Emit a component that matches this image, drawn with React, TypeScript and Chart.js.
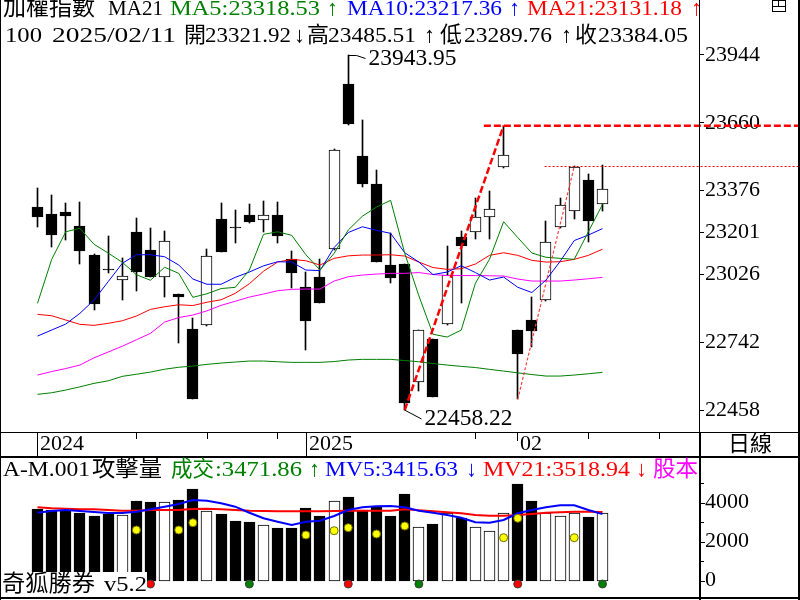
import React, { useEffect, useRef } from "react";
import { Chart, registerables } from "chart.js";
Chart.register(...registerables);

// ---------- data ----------
const dates = [
  "2024-12-05","2024-12-06","2024-12-09","2024-12-10","2024-12-11","2024-12-12","2024-12-13",
  "2024-12-16","2024-12-17","2024-12-18","2024-12-19","2024-12-20","2024-12-23","2024-12-24",
  "2024-12-25","2024-12-26","2024-12-27","2024-12-30","2024-12-31","2025-01-02","2025-01-03",
  "2025-01-06","2025-01-07","2025-01-08","2025-01-09","2025-01-10","2025-01-13","2025-01-14",
  "2025-01-15","2025-01-16","2025-01-17","2025-01-20","2025-01-21","2025-01-22","2025-02-03",
  "2025-02-04","2025-02-05","2025-02-06","2025-02-07","2025-02-10","2025-02-11",
];
const open = [23307.6,23278,23287,23228,23107,23047,23001,23203,23128,23013,22943.5,22797,22812.5,23257,23222.5,23274,23252,23274,23089,22973,23014.6,23130.6,23822,23521,23403.8,23064.8,23069,22574,22755,22816.7,23183,23204,23267,23473.7,22792.8,22834.7,22917,23225,23289.6,23420.6,23321.92];
const high = [23387,23358,23323,23328.5,23110,23186,23093,23261.5,23220,23207,22945,22844,23132,23324,23295,23320,23333,23327,23123,23037,23089,23550,23943.95,23671.7,23462,23197.5,23070,22792,22756,23144,23207,23344,23374.6,23648,22793,22931,23249,23344,23478,23444.5,23485.51];
const low = [23225,23139,23169,23070,22878,23030,22920,22957,23014,22932,22740,22503,22810,23119,23158,23242,23204,23158,22967,22710,22904.5,23128,23652,23391,23077,22988,22458.22,22539,22511,22815,22904.5,23175,23175,23472,22502.8,22720,22915,23218,23256,23162,23289.76];
const close = [23267,23192,23271,23125,22903,23046,23017.5,23037,23016,23164,22932,22504,23101,23120.6,23222,23246,23274,23187.5,23032.6,22832,22907,23546,23653.7,23405,23078.7,23011.7,22486,22791.5,22513.7,23021.7,23145.6,23264.5,23299,23524,22693.6,22790,23160,23314.6,23473.7,23250,23384.05];

const ma5 = [22904.6,23087.9,23204.2,23218.5,23151.9,23115.1,23076.6,23024.3,23001.2,23055.6,23030.1,22929.7,22944.7,22966.5,22971.5,23043.9,23193.3,23204.2,23189.2,23108,23043.9,23113.8,23211.3,23269.1,23307.6,23335.6,23113.8,22936,22775.2,22763.5,22792.8,22988.3,23089.1,23246.1,23180,23115.1,23097.5,23092.9,23088.7,23204.2,23318.53];
const ma10 = [22767.7,22792.8,22817.9,22862.7,22918.4,22995,23072,23108,23108,23099.6,23064.9,23006.3,22984.5,22984.5,23013.4,23035.6,23061.5,23078.7,23077.4,23043.9,23041.8,23138.1,23200.9,23225.1,23210.1,23197.5,23116.3,23077.4,23025.1,23035.6,23061.9,23033.5,23002.1,23014.6,22971.9,22949.8,23002.1,23080.3,23167.4,23190.4,23217.36];
const ma21 = [22858.5,22852.7,22834.7,22816.7,22812.5,22820.9,22831.7,22851.4,22879.4,22890.3,22898.7,22895.4,22909.2,22919.6,22946.4,22986.6,23038.9,23077.4,23088.7,23082.8,23064.9,23092.9,23103.4,23106.7,23106.7,23108,23102.5,23077.4,23054.4,23046.9,23049.4,23069,23105.4,23116.3,23105.4,23084.5,23077.4,23078.7,23088.7,23105.4,23131.18];
const maMid = [22604.5,22619.1,22631.7,22646.3,22676.5,22700.7,22725,22752.2,22779,22826.3,22845.1,22855.6,22873.2,22896.2,22913.4,22930.9,22943.5,22957.3,22963.2,22964.4,22964.4,22997.9,23015.9,23023,23027.2,23030.1,23030.1,23033.5,23025.1,23020.9,23020.9,23020.9,23020.1,23018.8,23006.3,22997.9,22997.9,22997.9,23002.1,23007.5,23013.4];
const maLong = [22523.7,22530.4,22541.7,22555.1,22569.7,22580.2,22599,22607.8,22617,22628.8,22637.1,22642.1,22649.3,22654.7,22658.9,22663.1,22663.1,22660.1,22657.6,22657.6,22657.6,22661,22667.3,22670.2,22670.2,22670.2,22665.2,22660.1,22652.6,22646.3,22640.9,22635.9,22628.3,22621.2,22613.7,22606.6,22600.3,22600.3,22604.5,22609.9,22615.8];

const volume = [3678,3627,3627,3473,3319,3422,3370,4089,4037,4037,4140,4704,3576,3422,3063,3011,2842,2704,2704,3730,3319,4089,4294,3627,3781,3319,4448,2739,2909,3458,3217,2739,2550,3458,4961,4089,3488,3319,3458,3252,3471.86];
const mv5 = [3488,3576,3627,3576,3524,3473,3473,3540,3663,3796,3935,4140,4104,3971,3796,3488,3201,3027,2857,3027,3078,3319,3627,3765,3817,3832,3765,3591,3488,3370,3232,2996,2975,3114,3458,3627,3765,3868,3868,3627,3415.63];
const mv21 = [3765,3714,3694,3663,3663,3627,3591,3591,3627,3627,3627,3678,3694,3663,3627,3591,3576,3560,3560,3560,3560,3576,3591,3591,3591,3591,3663,3612,3560,3509,3458,3370,3335,3335,3370,3422,3488,3509,3540,3540,3518.94];

const attackIdx = [7, 10, 11, 19, 21, 22, 24, 26, 33, 34, 38];
const attackVal = [2601, 2601, 2975, 2344, 2565, 2719, 2396, 2806, 2206, 3201, 2206];
const signalIdx = [8, 15, 22, 27, 34, 40];
const signalColor = ["#ff0000", "#008000", "#ff0000", "#008000", "#ff0000", "#008000"];
const signalVal = -170;

const priceTicks = [22458, 22742, 23026, 23201, 23376, 23660, 23944];
const volTicks = [0, 2000, 4000];
const volMinorTicks = [1000, 3000, 5000];
const yearMarks = [{ i: 0, label: "2024" }, { i: 19, label: "2025" }];
const monthMarks = [{ i: 34, label: "02" }];
const weekTicks = [7, 12, 17, 31, 39, 44];

// trend-line annotations (index, value)
const trendA = [{ x: 26, y: low[26] }, { x: 33, y: high[33] }];
const trendB = [{ x: 34, y: low[34] }, { x: 38, y: high[38] }];
const levelAStart = 31.6;
const levelBStart = 35.9;

// ---------- layout constants ----------
const X_MIN = -2.6549;
const X_MAX = 46.832;
const Y_MIN = 21663.04;
const Y_MAX = 24174.13;
const V_MIN = -990.1;
const V_MAX = 29789.9;

const SERIF = "'Liberation Serif', 'Noto Sans CJK TC', serif";
const N = dates.length;
const idx = dates.map((_, i) => i);
const down = (i: number) => close[i] < open[i];
const f2 = (v: number) => v.toFixed(2);
const arrow = (a: number, b: number) => (a >= b ? "\u2191" : "\u2193");

function drawText(ctx: CanvasRenderingContext2D, s: string, x: number, y: number, color: string, size = 22, width?: number) {
  ctx.save();
  ctx.font = `${size}px ${SERIF}`;
  ctx.fillStyle = color;
  ctx.textAlign = "left";
  ctx.textBaseline = "middle";
  if (width) {
    const w = ctx.measureText(s).width;
    ctx.translate(x, y);
    ctx.scale(width / w, 1);
    ctx.fillText(s, 0, 0);
  } else {
    ctx.fillText(s, x, y);
  }
  ctx.restore();
}

const overlay = {
  id: "overlay",
  beforeDraw(chart: any) {
    const ctx = chart.ctx;
    ctx.save();
    ctx.fillStyle = "#fff";
    ctx.fillRect(0, 0, chart.width, chart.height);
    ctx.restore();
  },
  beforeDatasetsDraw(chart: any) {
    // snap bar elements to the pixel grid for crisp candles
    chart.data.datasets.forEach((ds: any, di: number) => {
      if (ds.type !== "bar") return;
      const meta = chart.getDatasetMeta(di);
      meta.data.forEach((el: any) => {
        el.x = Math.floor(el.x) + 0.5;
        const yy = Math.round(el.y);
        let bb = Math.round(el.base);
        if (yy === bb) bb = yy + 1;
        el.y = yy;
        el.base = bb;
      });
    });
  },
  afterDatasetsDraw(chart: any) {
    const ctx: CanvasRenderingContext2D = chart.ctx;
    const { x, y } = chart.scales;
    ctx.save();
    // horizontal level extensions
    ctx.strokeStyle = "#ff0000";
    ctx.lineWidth = 2.5;
    ctx.setLineDash([7, 3]);
    const ya = y.getPixelForValue(high[33]);
    ctx.beginPath();
    ctx.moveTo(x.getPixelForValue(levelAStart), ya);
    ctx.lineTo(800, ya);
    ctx.stroke();
    ctx.lineWidth = 1;
    ctx.setLineDash([2, 2]);
    const yb = Math.round(y.getPixelForValue(high[38])) + 0.5;
    ctx.beginPath();
    ctx.moveTo(x.getPixelForValue(levelBStart), yb);
    ctx.lineTo(800, yb);
    ctx.stroke();
    ctx.setLineDash([]);
    // leader lines + extreme labels
    ctx.strokeStyle = "#000";
    ctx.lineWidth = 1;
    const hx = Math.floor(x.getPixelForValue(22)) + 0.5;
    const hy = Math.round(y.getPixelForValue(high[22])) + 0.5;
    ctx.beginPath();
    ctx.moveTo(hx, hy);
    ctx.lineTo(hx + 8, hy);
    ctx.lineTo(hx + 17, hy + 3);
    ctx.stroke();
    drawText(ctx, f2(high[22]), hx + 20, hy + 3, "#000", 24, 88);
    const lx = Math.floor(x.getPixelForValue(26)) + 0.5;
    const ly = y.getPixelForValue(low[26]);
    ctx.beginPath();
    ctx.moveTo(lx, ly);
    ctx.lineTo(lx + 17, ly + 9);
    ctx.stroke();
    drawText(ctx, f2(low[26]), lx + 20, ly + 9, "#000", 24, 88);
    // footer label with white box
    ctx.fillStyle = "#fff";
    ctx.fillRect(0, 572, 147, 25);
    drawText(ctx, "奇狐勝券", 2, 585, "#000", 23, 93);
    drawText(ctx, "v5.2", 104, 585, "#000", 22, 43);
    ctx.restore();
  },
  afterDraw(chart: any) {
    const ctx: CanvasRenderingContext2D = chart.ctx;
    const { x, yv } = chart.scales;
    ctx.save();
    ctx.fillStyle = "#000";
    // frame
    ctx.fillRect(0, 0, 1, 600);
    ctx.fillRect(699, 0, 1, 432);
    ctx.fillRect(699, 432, 2, 168);
    ctx.fillRect(798, 0, 2, 600);
    ctx.fillRect(0, 432, 800, 1);
    ctx.fillRect(0, 456, 800, 2);
    ctx.fillRect(0, 597, 800, 2);
    // icon top right
    ctx.strokeStyle = "#000";
    ctx.lineWidth = 1;
    ctx.strokeRect(772.5, 0.5, 13, 11);
    ctx.beginPath();
    ctx.moveTo(772.5, 6.5);
    ctx.lineTo(785.5, 6.5);
    ctx.moveTo(778.5, 0.5);
    ctx.lineTo(778.5, 6.5);
    ctx.stroke();
    // date strip
    for (const m of yearMarks) {
      const px = Math.floor(x.getPixelForValue(m.i) + 0.25);
      ctx.fillRect(px, 432, 1, 25);
      drawText(ctx, m.label, px + 3, 444, "#000", 22);
    }
    for (const m of monthMarks) {
      const px = Math.floor(x.getPixelForValue(m.i) + 0.25);
      ctx.fillRect(px, 432, 1, 9);
      drawText(ctx, m.label, px + 3, 444, "#000", 22);
    }
    for (const i of weekTicks) {
      const px = Math.floor(x.getPixelForValue(i) + 0.25);
      ctx.fillRect(px, 432, 1, 7);
    }
    drawText(ctx, "日線", 728, 445, "#000", 22);
    // volume axis
    for (const v of volTicks) {
      const py = Math.round(yv.getPixelForValue(v));
      ctx.fillRect(701, py, 4, 1);
      drawText(ctx, String(v), 705, py - 1, "#000", 22);
    }
    for (const v of volMinorTicks) {
      const py = Math.round(yv.getPixelForValue(v));
      ctx.fillRect(701, py, 3, 1);
    }
    // header line 1
    const n = N - 1;
    drawText(ctx, "加權指數", 3, 9, "#000", 23, 92);
    drawText(ctx, "MA21", 108, 9, "#000", 22, 55);
    drawText(ctx, "MA5:" + f2(ma5[n]), 170, 9, "#008000", 22, 150);
    drawText(ctx, arrow(ma5[n], ma5[n - 1]), 327, 9, "#008000", 22);
    drawText(ctx, "MA10:" + f2(ma10[n]), 347, 9, "#0000ff", 22, 155);
    drawText(ctx, arrow(ma10[n], ma10[n - 1]), 509, 9, "#0000ff", 22);
    drawText(ctx, "MA21:" + f2(ma21[n]), 527, 9, "#ff0000", 22, 155);
    drawText(ctx, arrow(ma21[n], ma21[n - 1]), 691, 9, "#ff0000", 22);
    // header line 2
    const d = dates[n].replace(/-/g, "/");
    drawText(ctx, "100", 5, 36, "#000", 22, 37);
    drawText(ctx, d, 52, 36, "#000", 22, 124);
    drawText(ctx, "開", 184, 36, "#000", 22);
    drawText(ctx, f2(open[n]), 205, 36, "#000", 22, 86);
    drawText(ctx, arrow(open[n], open[n - 1]), 294, 36, "#000", 22);
    drawText(ctx, "高", 307, 36, "#000", 22);
    drawText(ctx, f2(high[n]), 328, 36, "#000", 22, 88);
    drawText(ctx, arrow(high[n], high[n - 1]), 424, 36, "#000", 22);
    drawText(ctx, "低", 440, 36, "#000", 22);
    drawText(ctx, f2(low[n]), 464, 36, "#000", 22, 88);
    drawText(ctx, arrow(low[n], low[n - 1]), 561, 36, "#000", 22);
    drawText(ctx, "收", 575, 36, "#000", 22);
    drawText(ctx, f2(close[n]), 598, 36, "#000", 22, 90);
    // volume header
    drawText(ctx, "A-M.001", 3, 470, "#000", 22, 87);
    drawText(ctx, "攻擊量", 92, 470, "#000", 23, 70);
    drawText(ctx, "成交", 171, 470, "#008000", 22, 43);
    drawText(ctx, ":" + f2(volume[n]), 215, 470, "#008000", 22, 87);
    drawText(ctx, arrow(volume[n], volume[n - 1]), 309, 470, "#008000", 22);
    drawText(ctx, "MV5:" + f2(mv5[n]), 325, 470, "#0000ff", 22, 133);
    drawText(ctx, arrow(mv5[n], mv5[n - 1]), 466, 470, "#0000ff", 22);
    drawText(ctx, "MV21:" + f2(mv21[n]), 483, 470, "#ff0000", 22, 147);
    drawText(ctx, arrow(mv21[n], mv21[n - 1]), 636, 470, "#ff0000", 22);
    drawText(ctx, "股本", 653, 470, "#ff00ff", 22, 45);
    ctx.restore();
  },
};

const lineDs = (data: number[], color: string, width: number, axis: string, order: number) => ({
  type: "line" as const,
  data: idx.map((i) => ({ x: i, y: data[i] })),
  borderColor: color,
  borderWidth: width,
  pointRadius: 0,
  tension: 0,
  yAxisID: axis,
  order,
});

export default function App() {
  const ref = useRef<HTMLCanvasElement | null>(null);
  useEffect(() => {
    if (!ref.current) return;
    const chart = new Chart(ref.current, {
      type: "line",
      data: {
        datasets: [
          { type: "line", data: trendA, borderColor: "#ff0000", borderWidth: 2.5, borderDash: [7, 3], pointRadius: 0, yAxisID: "y", order: 0 },
          { type: "line", data: trendB, borderColor: "#ff4040", borderWidth: 1.2, borderDash: [3, 2], pointRadius: 0, yAxisID: "y", order: 0 },
          lineDs(ma5, "#008000", 1, "y", 1),
          lineDs(ma10, "#0000ff", 1, "y", 1),
          lineDs(ma21, "#ff0000", 1, "y", 1),
          lineDs(maMid, "#ff00ff", 1, "y", 1),
          lineDs(maLong, "#008000", 1, "y", 1),
          {
            type: "bar",
            data: idx.map((i) => ({ x: i, y: [open[i], close[i]] })),
            backgroundColor: idx.map((i) => (down(i) ? "#000" : "#fff")),
            borderColor: "#000",
            borderWidth: 1,
            borderSkipped: false,
            barThickness: 11,
            minBarLength: 1,
            grouped: false,
            yAxisID: "y",
            order: 2,
          },
          {
            type: "bar",
            data: idx.map((i) => ({ x: i, y: [low[i], high[i]] })),
            backgroundColor: "#000",
            borderWidth: 0,
            barThickness: 1,
            grouped: false,
            yAxisID: "y",
            order: 3,
          },
          {
            type: "line",
            data: attackIdx.map((i, k) => ({ x: i, y: attackVal[k] })),
            showLine: false,
            pointRadius: 4,
            pointBackgroundColor: "#ffff00",
            pointBorderColor: "#707000",
            pointBorderWidth: 1,
            yAxisID: "yv",
            order: 0,
          },
          {
            type: "line",
            data: signalIdx.map((i) => ({ x: i, y: signalVal })),
            showLine: false,
            pointRadius: 4,
            pointBackgroundColor: signalColor,
            pointBorderColor: "#404040",
            pointBorderWidth: 1,
            yAxisID: "yv",
            order: 0,
          },
          lineDs(mv5, "#0000ff", 2, "yv", 1),
          lineDs(mv21, "#ff0000", 2, "yv", 1),
          {
            type: "bar",
            data: idx.map((i) => ({ x: i, y: volume[i] })),
            backgroundColor: idx.map((i) => (down(i) ? "#000" : "#fff")),
            borderColor: "#000",
            borderWidth: 1,
            borderSkipped: false,
            barThickness: 11,
            grouped: false,
            yAxisID: "yv",
            order: 5,
          },
        ] as any,
      },
      options: {
        animation: false,
        responsive: false,
        events: [],
        layout: { padding: 0, autoPadding: false },
        plugins: { legend: { display: false }, tooltip: { enabled: false } },
        scales: {
          x: { type: "linear", min: X_MIN, max: X_MAX, display: false, offset: false },
          y: {
            type: "linear",
            position: "right",
            min: Y_MIN,
            max: Y_MAX,
            afterBuildTicks: (s: any) => {
              s.ticks = priceTicks.map((v) => ({ value: v }));
            },
            afterFit: (s: any) => {
              s.width = 101;
              s.paddingTop = 0;
              s.paddingBottom = 0;
            },
            grid: { drawOnChartArea: false, drawTicks: true, tickLength: 5, color: "#000", lineWidth: 1 },
            border: { display: false },
            ticks: {
              padding: 1,
              color: "#000",
              autoSkip: false,
              font: { family: SERIF, size: 22 },
              callback: (v: any) => String(v),
            },
          },
          yv: { type: "linear", position: "right", min: V_MIN, max: V_MAX, display: false },
        },
      } as any,
      plugins: [overlay],
    });
    return () => chart.destroy();
  }, []);
  return (
    <div style={{ position: "fixed", left: 0, top: 0, width: 800, height: 600, background: "#fff" }}>
      <canvas ref={ref} width={800} height={600} style={{ display: "block" }} />
    </div>
  );
}
